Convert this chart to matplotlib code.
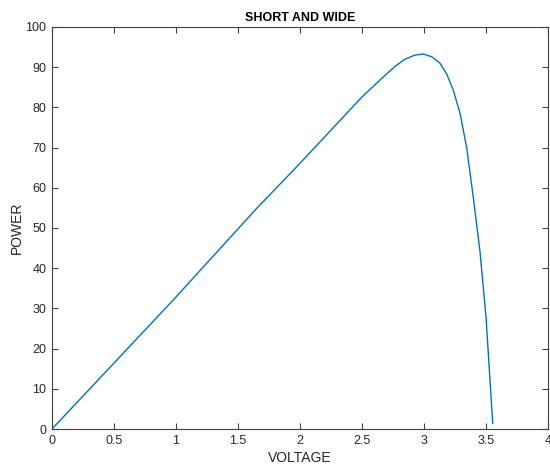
import matplotlib
matplotlib.use("Agg")
import matplotlib.pyplot as plt

voltage = [0.0, 0.978, 1.651, 1.96, 2.188, 2.403, 2.5, 2.645, 2.766, 2.847, 2.927,
           2.994, 3.062, 3.129, 3.183, 3.236, 3.29, 3.344, 3.398, 3.452, 3.5, 3.554]
power = [0.0, 32.1, 54.9, 64.8, 72.3, 79.4, 82.6, 86.8, 90.2, 92.0, 93.0,
         93.3, 92.6, 91.0, 88.3, 84.3, 78.6, 70.0, 57.5, 44.0, 27.9, 1.4]

plt.rcParams['font.family'] = ['Liberation Sans', 'DejaVu Sans']

fig = plt.figure(figsize=(5.5, 4.68), dpi=100)
ax = fig.add_axes([52/550, 39/468, 496/550, 402/468])

ax.plot(voltage, power, color='#0072BD', linewidth=1.0)

ax.set_xlim(0, 4)
ax.set_ylim(0, 100)
ax.set_xticks([0, 0.5, 1, 1.5, 2, 2.5, 3, 3.5, 4])
ax.set_xticklabels(['0', '0.5', '1', '1.5', '2', '2.5', '3', '3.5', '4'])
ax.set_yticks(range(0, 101, 10))

gray = '#262626'
for s in ax.spines.values():
    s.set_color('#404040')
    s.set_linewidth(0.8)
ax.tick_params(direction='in', top=True, right=True, length=4, width=0.8,
               color='#404040', labelcolor=gray, labelsize=9, pad=4)

ax.set_title('SHORT AND WIDE', fontsize=9, fontweight='bold', color='black', pad=4)
ax.set_xlabel('VOLTAGE', fontsize=10, color=gray, labelpad=3)
ax.set_ylabel('POWER', fontsize=10, color=gray, labelpad=1)

fig.savefig('out.png', dpi=100)
